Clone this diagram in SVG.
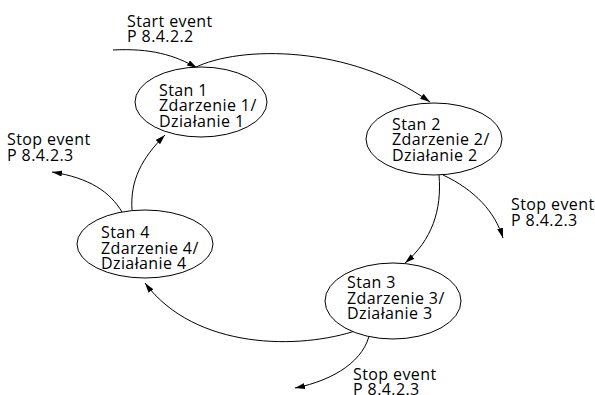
<svg xmlns="http://www.w3.org/2000/svg" width="595" height="395" viewBox="0 0 595 395">
<defs>
<marker id="arr" viewBox="0 0 10 6" refX="10" refY="3" markerWidth="10" markerHeight="6" markerUnits="userSpaceOnUse" orient="auto">
<path d="M0,0 L10,3 L0,6 Z" fill="#000"/>
</marker>
</defs>
<style>
.node ellipse{fill:#fff;stroke:#000;stroke-width:1}
text{font-family:"Open Sans","Noto Sans",sans-serif;font-size:16px;letter-spacing:0.4px;fill:#000}
.conn path{fill:none;stroke:#000;stroke-width:1;marker-end:url(#arr)}
</style>
<rect width="595" height="395" fill="#fff"/>
<g id="connectors" class="conn">
<path d="M113,50 C150,48 175,55 197,68"/>
<path d="M194,68 C240,45 350,45 430,102"/>
<path d="M439,175 C442,210 432,240 405,263"/>
<path d="M443,175 C475,190 495,212 503,238"/>
<path d="M358,330 C300,350 195,350 145,283"/>
<path d="M370,332 C365,360 335,380 295,388"/>
<path d="M122,212 C110,192 90,178 52,172"/>
<path d="M132,210 C130,180 142,158 165,135"/>
</g>
<g id="node1" class="node">
<ellipse cx="201" cy="102" rx="66" ry="35"/>
<text x="159" y="95.5">Stan 1</text>
<text x="159" y="111">Zdarzenie 1/</text>
<text x="159" y="126.5">Działanie 1</text>
</g>
<g id="node2" class="node">
<ellipse cx="434" cy="139" rx="68" ry="36"/>
<text x="392" y="129.5">Stan 2</text>
<text x="392" y="145">Zdarzenie 2/</text>
<text x="392" y="160.5">Działanie 2</text>
</g>
<g id="node3" class="node">
<ellipse cx="393" cy="301" rx="68" ry="38"/>
<text x="347" y="288">Stan 3</text>
<text x="347" y="303.5">Zdarzenie 3/</text>
<text x="347" y="319">Działanie 3</text>
</g>
<g id="node4" class="node">
<ellipse cx="145" cy="244" rx="68" ry="34"/>
<text x="101" y="238">Stan 4</text>
<text x="101" y="253.5">Zdarzenie 4/</text>
<text x="101" y="269">Działanie 4</text>
</g>
<g id="start-label">
<text x="127" y="27">Start event</text>
<text x="127" y="42">P 8.4.2.2</text>
</g>
<g id="stop-label-left">
<text x="7" y="145">Stop event</text>
<text x="7" y="160.5">P 8.4.2.3</text>
</g>
<g id="stop-label-right">
<text x="511" y="210">Stop event</text>
<text x="511" y="225.5">P 8.4.2.3</text>
</g>
<g id="stop-label-bottom">
<text x="353" y="379.5">Stop event</text>
<text x="353" y="395">P 8.4.2.3</text>
</g>
</svg>
